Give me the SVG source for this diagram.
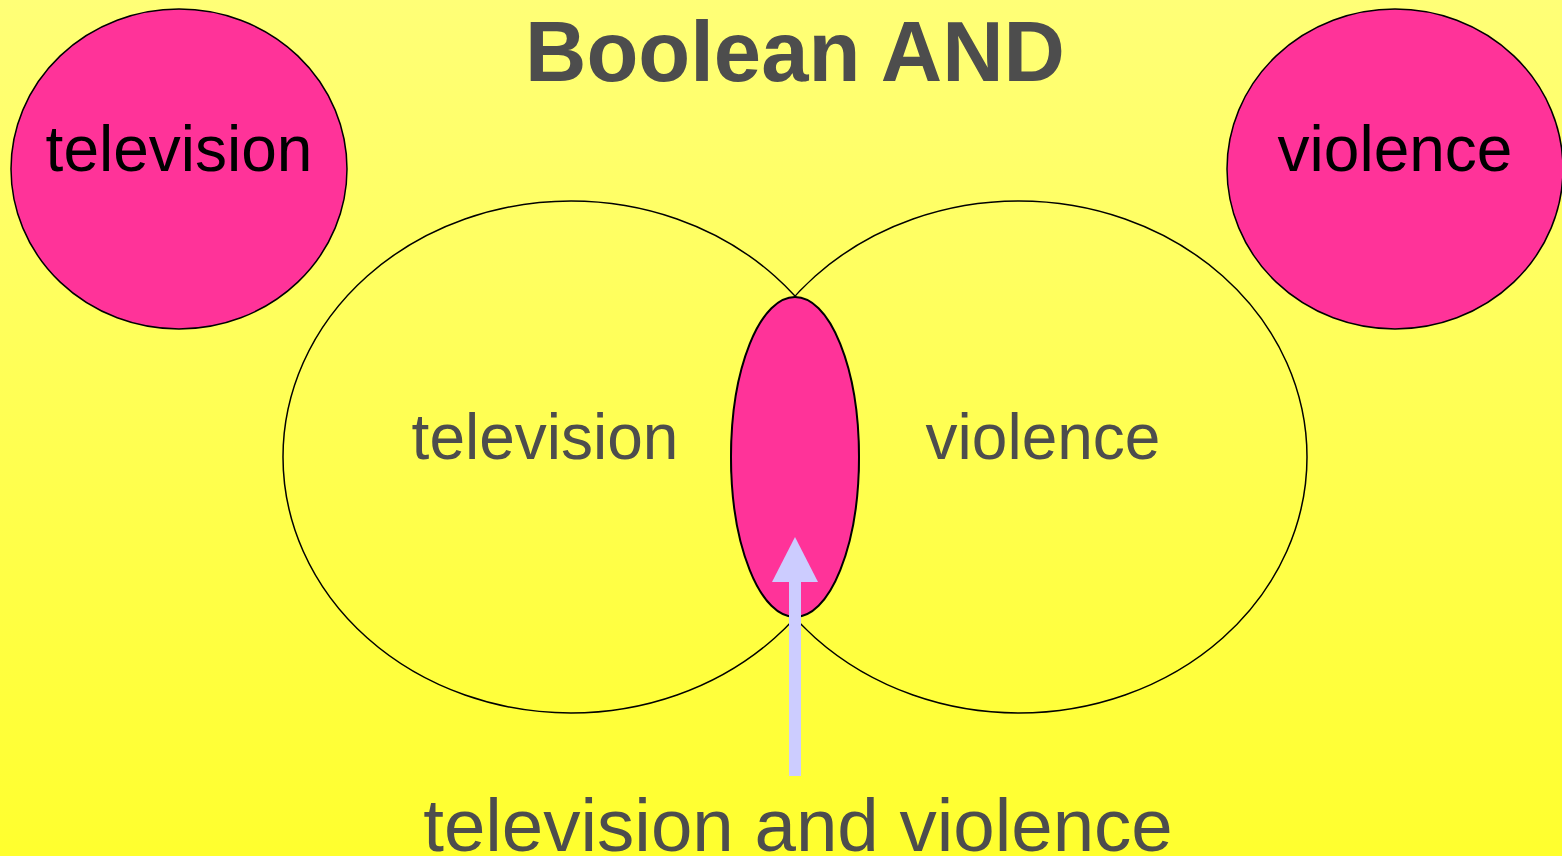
<svg xmlns="http://www.w3.org/2000/svg" width="1562" height="856" viewBox="0 0 1562 856">
  <defs>
    <linearGradient id="bg" x1="0" y1="0" x2="0" y2="1">
      <stop offset="0" stop-color="#FFFF77"/>
      <stop offset="1" stop-color="#FFFF2E"/>
    </linearGradient>
  </defs>
  <style>
    .pink { fill: #FF3399; stroke: #000; stroke-width: 1.5; }
    .venn { fill: none; stroke: #000; stroke-width: 1.5; }
    .lab { font-family: "Liberation Sans", Arial, sans-serif; font-size: 64px; text-anchor: middle; }
    .dark { fill: #000; }
    .grey { fill: #4D4D4D; }
    .arrow { fill: #CCCCFF; }
  </style>
  <rect x="0" y="0" width="1562" height="856" fill="url(#bg)"/>
  <text x="795" y="81" class="lab grey" style="font-size:85px;font-weight:bold">Boolean AND</text>
  <g id="tv-set">
    <ellipse cx="179" cy="169" rx="168" ry="160" class="pink"/>
    <text x="179" y="171" class="lab dark">television</text>
  </g>
  <g id="violence-set">
    <ellipse cx="1395" cy="169" rx="168" ry="160" class="pink"/>
    <text x="1395" y="171" class="lab dark">violence</text>
  </g>
  <g id="venn-left">
    <ellipse cx="571" cy="457" rx="288" ry="256" class="venn"/>
    <text x="545" y="459" class="lab grey">television</text>
  </g>
  <g id="venn-right">
    <ellipse cx="1019" cy="457" rx="288" ry="256" class="venn"/>
    <text x="1043" y="459" class="lab grey">violence</text>
  </g>
  <g id="intersection">
    <ellipse cx="795" cy="457" rx="64" ry="160" class="pink" style="stroke-width:2"/>
  </g>
  <g id="connectors">
    <rect x="789" y="581" width="12" height="195" class="arrow"/>
    <polygon points="795,537 818,582 772,582" class="arrow"/>
  </g>
  <g id="result-label">
    <text x="798" y="851" class="lab grey" style="font-size:74.5px">television and violence</text>
  </g>
</svg>
